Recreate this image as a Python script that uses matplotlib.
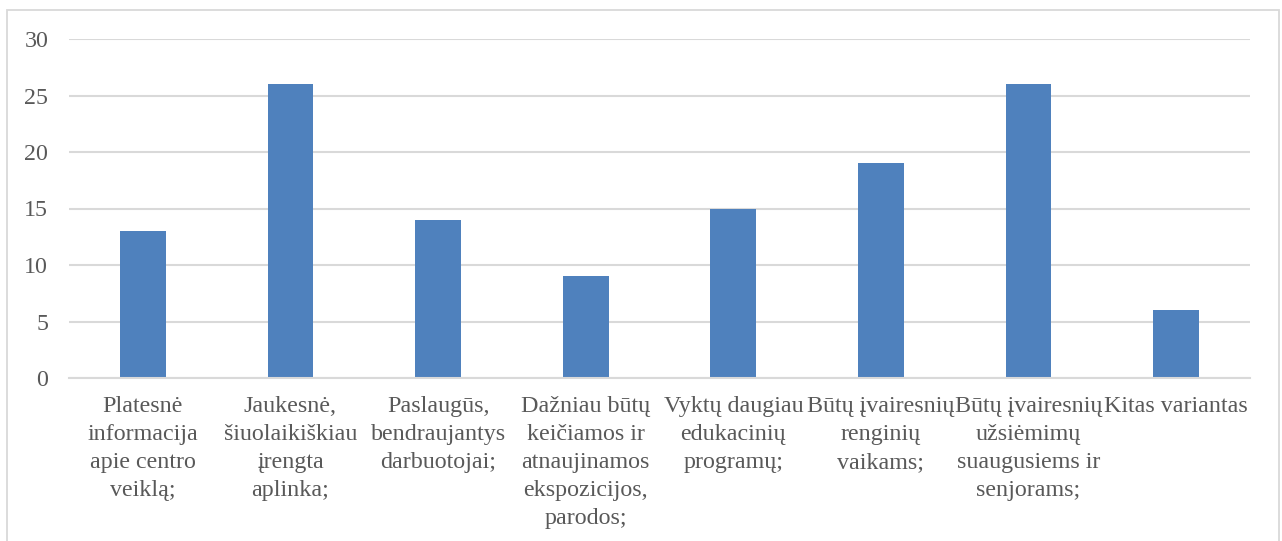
import matplotlib.pyplot as plt
import matplotlib.patches as patches
import numpy as np

# Chart data
categories = [
    'Platesnė\ninformacija\napie centro\nveiklą;',
    'Jaukesnė,\nšiuolaikiškiau\nįrengta\naplinka;',
    'Paslaugūs,\nbendraujantys\ndarbuotojai;',
    'Dažniau būtų\nkeičiamos ir\natnaujinamos\nekspozicijos,\nparodos;',
    'Vyktų daugiau\nedukacinių\nprogramų;',
    'Būtų įvairesnių\nrenginių\nvaikams;',
    'Būtų įvairesnių\nužsiėmimų\nsuaugusiems ir\nsenjorams;',
    'Kitas variantas',
]
values = [13, 26, 14, 9, 15, 19, 26, 6]
y_ticks = [0, 5, 10, 15, 20, 25, 30]

text_color = '#595959'
grid_color = '#D9D9D9'
bar_color = '#4F81BD'

plt.rcParams['font.family'] = ['Liberation Serif', 'DejaVu Serif']

fig = plt.figure(figsize=(12.82, 5.41), dpi=100)
ax = fig.add_axes([69 / 1282, 1 - 378 / 541, (1250 - 69) / 1282, (378 - 39) / 541])

x = np.arange(len(categories))
ax.bar(x, values, width=0.31, color=bar_color, zorder=3)

ax.set_xlim(-0.5, len(categories) - 0.5)
ax.set_ylim(0, 30)
ax.set_yticks(y_ticks)
ax.set_xticks(x)
ax.set_xticklabels(categories, fontsize=17.3, color=text_color, linespacing=1.43)
ax.tick_params(axis='y', labelsize=17.3, labelcolor=text_color, length=0, pad=15)
ax.tick_params(axis='x', length=0, pad=13)
ax.grid(axis='y', color=grid_color, linewidth=1.5, zorder=0)

for side in ['top', 'right', 'left']:
    ax.spines[side].set_visible(False)
ax.spines['bottom'].set_color(grid_color)
ax.spines['bottom'].set_linewidth(1.5)
ax.spines['bottom'].set_zorder(4)

# Light frame round the chart, open at the bottom
frame = patches.Rectangle((7 / 1282, -0.05), (1279 - 7) / 1282, 1.05 - 10 / 541,
                          transform=fig.transFigure, fill=False,
                          edgecolor=grid_color, linewidth=1.3, clip_on=False)
fig.patches.append(frame)

fig.savefig('out.png', dpi=100)
